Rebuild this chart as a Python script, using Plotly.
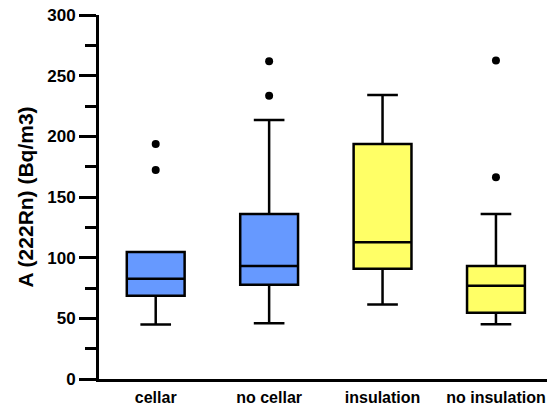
import plotly.graph_objects as go

categories = ["cellar", "no cellar", "insulation", "no insulation"]
q1 = [68.7, 77.7, 90.9, 54.7]
median = [82.6, 93.1, 112.7, 76.9]
q3 = [104.7, 136.0, 193.7, 93.1]
lowerfence = [45.0, 45.9, 61.5, 45.1]
upperfence = [104.7, 213.5, 234.0, 136.0]
colors = ["#6699FF", "#6699FF", "#FFFF66", "#FFFF66"]

outlier_cats = ["cellar", "cellar", "no cellar", "no cellar", "no insulation", "no insulation"]
outlier_vals = [193.7, 172.3, 233.5, 261.8, 166.2, 262.4]

fig = go.Figure()
for i, c in enumerate(categories):
    fig.add_trace(go.Box(
        x=[c], q1=[q1[i]], median=[median[i]], q3=[q3[i]],
        lowerfence=[lowerfence[i]], upperfence=[upperfence[i]],
        fillcolor=colors[i], line=dict(color="black", width=2.5),
        width=0.51, whiskerwidth=0.53, boxpoints=False, showlegend=False,
        hoverinfo="skip",
    ))

fig.add_trace(go.Scatter(
    x=outlier_cats, y=outlier_vals, mode="markers",
    marker=dict(color="black", size=8), showlegend=False, hoverinfo="skip",
))

fig.update_layout(
    width=547, height=406,
    margin=dict(l=99, r=0, t=15, b=27),
    plot_bgcolor="white", paper_bgcolor="white",
    font=dict(family="Liberation Sans", color="black"),
    boxmode="overlay",
)
fig.update_xaxes(
    type="category", categoryorder="array", categoryarray=categories,
    range=[-0.5, 3.45], showline=True, linecolor="black", linewidth=3,
    ticks="", showgrid=False, zeroline=False, ticklabelstandoff=2,
    tickfont=dict(size=16, family="Liberation Sans", color="black", weight="bold"),
)
fig.update_yaxes(
    range=[0, 300], tickvals=[0, 50, 100, 150, 200, 250, 300],
    showline=True, linecolor="black", linewidth=3,
    ticks="outside", ticklen=17, tickwidth=3, tickcolor="black",
    minor=dict(tickvals=[25, 75, 125, 175, 225, 275], ticks="outside", ticklen=11, tickwidth=3, tickcolor="black"),
    showgrid=False, zeroline=False,
    tickfont=dict(size=17, family="Liberation Sans", color="black", weight="bold"),
    title=dict(text="A (222Rn) (Bq/m3)", font=dict(size=21, family="Liberation Sans", color="black", weight="bold"), standoff=8),
)

fig.write_html("out.html")
